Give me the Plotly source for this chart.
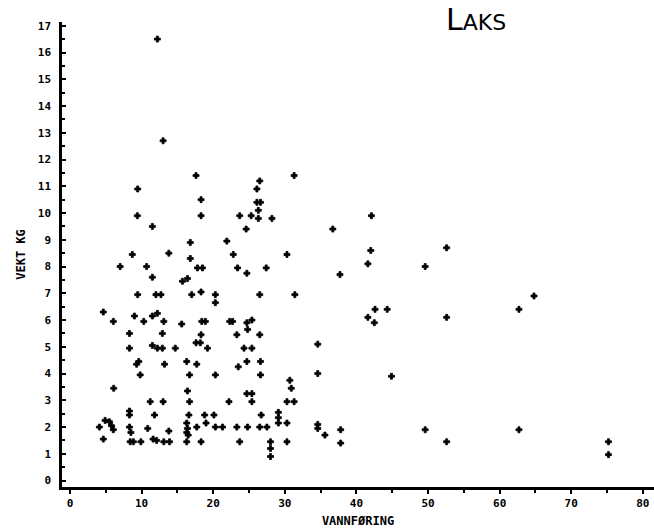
import plotly.graph_objects as go

# Salmon catches: water flow (VANNFØRING) vs. weight in kg (VEKT KG)
flow = [
    # upper outliers
    12.2, 13.0, 17.6, 31.3,
    # 4-10 flow band, upper part
    9.45, 9.4, 11.5, 16.8, 8.7, 13.8, 16.8, 7.0, 10.7, 11.5, 15.7, 16.4,
    9.45, 12.0, 12.7, 17.0, 4.65, 6.05, 9.0, 10.3, 11.5, 12.2, 13.1, 15.6,
    8.3, 12.9, 8.3, 11.5, 12.2, 12.9, 14.7, 9.6, 9.3, 13.2, 16.3,
    9.8, 16.7, 6.1, 16.4, 11.2, 13.0, 16.7,
    # 17-32 flow band
    26.5, 26.1, 18.3, 26.1, 26.6, 26.3, 18.3, 23.7, 25.3, 26.3, 28.2, 24.6,
    21.9, 22.8, 30.3, 17.8, 18.5, 23.4, 24.7, 27.4, 18.3, 20.3, 20.3, 26.5,
    31.4, 18.4, 18.9, 22.3, 22.7, 24.7, 25.4, 24.8, 18.3, 23.3, 26.5,
    17.6, 18.2, 19.2, 24.3, 25.4, 17.7, 24.7, 23.5, 26.6, 20.3, 26.6,
    30.7, 30.9, 24.7, 25.4, 22.2, 25.4, 30.3, 31.3,
    # low-weight fish
    8.3, 8.3, 11.8, 16.6, 18.8, 20.1, 26.7, 29.1, 29.1, 29.1,
    4.9, 5.5, 5.8, 6.05, 4.1, 4.65, 8.3, 8.5, 10.85, 13.8,
    8.4, 8.85, 9.9, 11.6, 12.1, 13.1, 13.9, 16.3, 16.4, 16.3, 16.5,
    17.7, 16.3, 18.3, 19.0, 20.3, 21.3, 23.3, 24.8, 23.7, 26.5, 27.5,
    30.3, 30.3, 28.0, 28.0, 28.0, 34.6, 34.6,
    # high flow
    42.1, 36.7, 42.0, 52.6, 41.6, 49.6, 37.7, 64.8, 62.7, 42.6, 44.3,
    41.6, 42.5, 52.6, 44.9, 34.6, 34.6, 37.8, 35.6, 37.8, 49.6, 52.6,
    62.7, 75.2, 75.2,
]

weight = [
    16.5, 12.7, 11.4, 11.4,
    10.9, 9.9, 9.5, 8.9, 8.45, 8.5, 8.3, 8.0, 8.0, 7.6, 7.45, 7.55,
    6.95, 6.95, 6.95, 6.95, 6.3, 5.95, 6.15, 5.95, 6.15, 6.25, 5.95, 5.85,
    5.5, 5.5, 4.95, 5.05, 4.95, 4.95, 4.95, 4.45, 4.35, 4.35, 4.45,
    3.95, 3.95, 3.45, 3.35, 2.95, 2.95, 2.95,
    11.2, 10.9, 10.5, 10.4, 10.4, 10.1, 9.9, 9.9, 9.9, 9.8, 9.8, 9.4,
    8.95, 8.45, 8.45, 7.95, 7.95, 7.95, 7.75, 7.95, 7.05, 6.95, 6.65, 6.95,
    6.95, 5.95, 5.95, 5.95, 5.95, 5.9, 6.0, 5.65, 5.45, 5.45, 5.45,
    5.15, 5.15, 4.95, 4.95, 4.95, 4.35, 4.45, 4.25, 4.45, 3.95, 3.95,
    3.75, 3.45, 3.25, 3.25, 2.95, 2.95, 2.95, 2.95,
    2.6, 2.45, 2.45, 2.45, 2.45, 2.45, 2.45, 2.55, 2.35, 2.15,
    2.25, 2.2, 2.05, 1.9, 2.0, 1.55, 2.0, 1.8, 1.95, 1.85,
    1.45, 1.45, 1.45, 1.55, 1.5, 1.45, 1.45, 2.15, 1.95, 1.8, 1.7,
    2.0, 1.45, 1.45, 2.15, 2.0, 2.0, 2.0, 2.0, 1.45, 2.0, 2.0,
    2.15, 1.45, 1.45, 1.2, 0.9, 2.1, 1.95,
    9.9, 9.4, 8.6, 8.7, 8.1, 8.0, 7.7, 6.9, 6.4, 6.4, 6.4,
    6.1, 5.9, 6.1, 3.9, 5.1, 4.0, 1.9, 1.7, 1.4, 1.9, 1.45,
    1.9, 1.45, 0.97,
]

x_ticks = list(range(0, 81, 10))
y_ticks = list(range(0, 18))

tick_font = dict(family="DejaVu Sans Mono", size=11, color="black", weight="bold")
title_font = dict(family="DejaVu Sans Mono", size=12, color="black", weight="bold")

fig = go.Figure(
    go.Scatter(
        x=flow,
        y=weight,
        mode="markers",
        marker=dict(symbol="cross", size=5, color="black",
                    line=dict(width=0.8, color="black")),
        hoverinfo="x+y",
    )
)

fig.update_layout(
    width=654,
    height=529,
    margin=dict(l=62, r=0, t=22, b=42),
    paper_bgcolor="white",
    plot_bgcolor="white",
    showlegend=False,
    xaxis=dict(
        range=[-1.12, 81.56],
        tickvals=x_ticks,
        ticktext=[str(v) for v in x_ticks],
        ticks="outside",
        ticklen=4,
        tickwidth=1.5,
        tickcolor="black",
        minor=dict(dtick=5, tick0=0, ticks="outside", ticklen=3, tickcolor="black"),
        showline=True,
        linewidth=2.5,
        linecolor="black",
        showgrid=False,
        zeroline=False,
        tickfont=tick_font,
        title=dict(text="VANNFØRING", font=title_font, standoff=8),
    ),
    yaxis=dict(
        range=[-0.24, 17.14],
        tickvals=y_ticks,
        ticktext=[str(v) for v in y_ticks],
        ticks="inside",
        ticklen=4,
        tickwidth=1.5,
        tickcolor="black",
        minor=dict(dtick=0.5, tick0=0, ticks="inside", ticklen=3, tickcolor="black"),
        showline=True,
        linewidth=2.5,
        linecolor="black",
        showgrid=False,
        zeroline=False,
        tickfont=tick_font,
        ticklabelstandoff=6,
        title=dict(text="VEKT KG", font=title_font, standoff=10),
    ),
    annotations=[
        dict(
            text="L<span style='font-size:22px'>AKS</span>",
            xref="paper",
            yref="paper",
            x=0.645,
            y=1.005,
            xanchor="left",
            yanchor="middle",
            showarrow=False,
            font=dict(family="DejaVu Sans", size=30, color="black"),
        )
    ],
)

fig.write_html("out.html")
